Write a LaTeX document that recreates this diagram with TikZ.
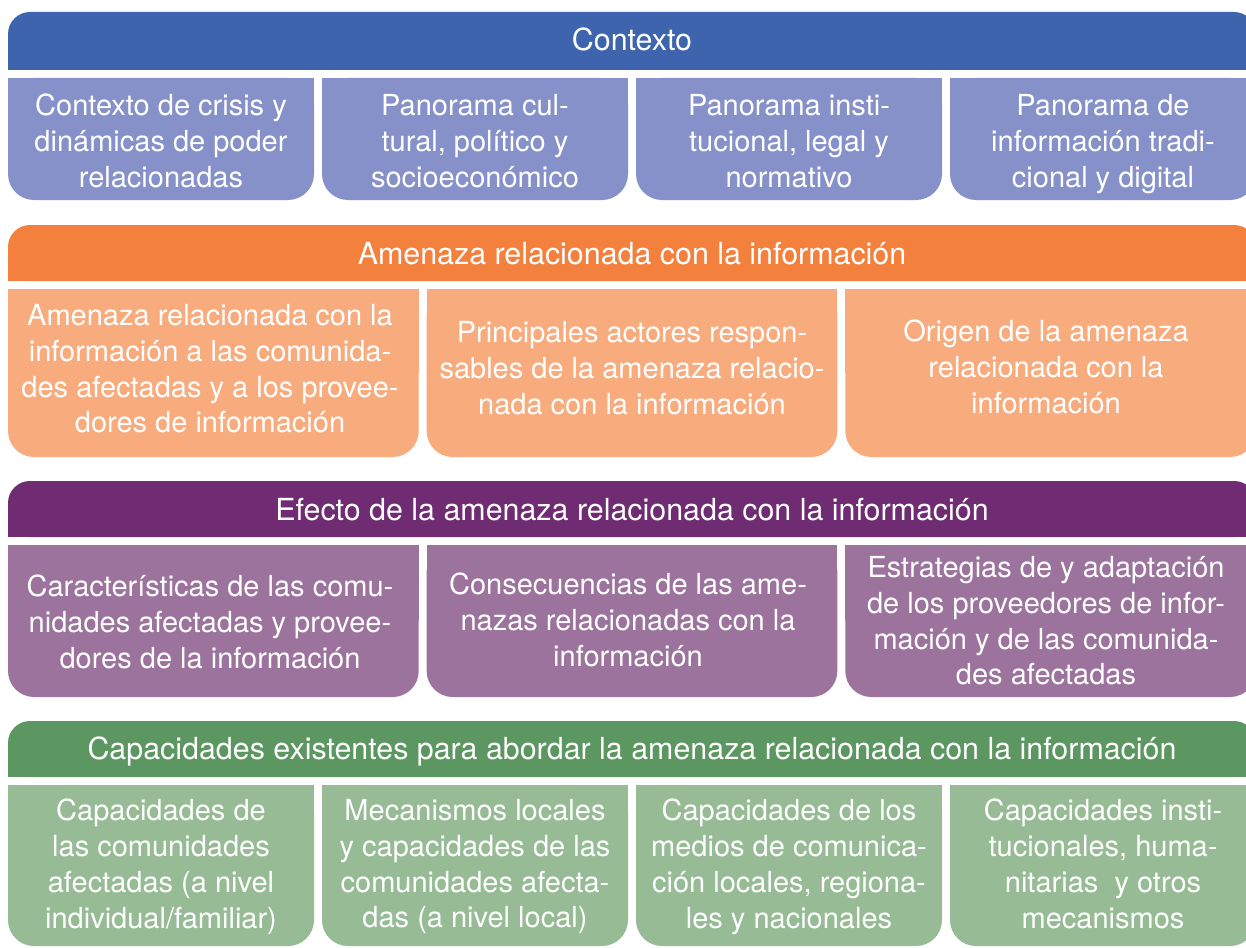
\documentclass[tikz,border=0pt]{standalone}
\usepackage{fontspec}
\setmainfont{TeX Gyre Heros}
\definecolor{bluehead}{HTML}{3E64AE}
\definecolor{bluebox}{HTML}{8591C8}
\definecolor{orangehead}{HTML}{F3813D}
\definecolor{orangebox}{HTML}{F8AC7E}
\definecolor{purplehead}{HTML}{6F2C72}
\definecolor{purplebox}{HTML}{9C739C}
\definecolor{greenhead}{HTML}{5C9762}
\definecolor{greenbox}{HTML}{96BB95}
\tikzset{
  headtext/.style={text=white, font=\fontsize{15.2}{18}\selectfont, inner sep=0pt,
    execute at begin node=\strut},
  boxtext/.style={text=white, font=\fontsize{14.5}{17.9}\selectfont, align=center, inner sep=0pt,
    execute at begin node=\strut, execute at end node=\strut},
}
% #1 colour, #2 x1, #3 y1 (top), #4 x2, #5 y2 (bottom)
\newcommand\myhead[5]{%
  \fill[#1, rounded corners=11pt] (#2,#3) rectangle (#4,#5);
  \fill[#1] (#2,{(#3+#5)/2}) rectangle (#4,#5);
}
\newcommand\mybox[5]{%
  \fill[#1, rounded corners=13pt] (#2,#3) rectangle (#4,#5);
  \fill[#1] (#2,#3) rectangle (#4,{(#3+#5)/2});
}
\begin{document}
\begin{tikzpicture}[x=0.5pt,y=-0.5pt]
\useasboundingbox (0,0) rectangle (1246,947);
\clip (0,0) rectangle (1246,947);
\fill[white] (0,0) rectangle (1246,947);

% Row 1
\myhead{bluehead}{8}{12}{1256}{70}
\mybox{bluebox}{8}{78}{314}{200}
\mybox{bluebox}{322}{78}{628}{200}
\mybox{bluebox}{636}{78}{942}{200}
\mybox{bluebox}{950}{78}{1256}{200}
\node[headtext] (h1) at (632,43) {Contexto};
\node[boxtext] (b11) at (161,146) {Contexto de crisis y\\dinámicas de poder\\relacionadas};
\node[boxtext] (b12) at (475,146) {Panorama cul-\\tural, político y\\socioeconómico};
\node[boxtext] (b13) at (789,146) {Panorama insti-\\tucional, legal y\\normativo};
\node[boxtext] (b14) at (1103,146) {Panorama de\\información tradi-\\cional y digital};

% Row 2
\myhead{orangehead}{8}{225}{1256}{281}
\mybox{orangebox}{8}{289}{418.7}{457}
\mybox{orangebox}{426.7}{289}{837.3}{457}
\mybox{orangebox}{845.3}{289}{1256}{457}
\node[headtext] (h2) at (632,257) {Amenaza relacionada con la información};
\node[boxtext] (b21) at (210,374) {Amenaza relacionada con la\\información a las comunida-\\des afectadas y a los provee-\\dores de información};
\node[boxtext] (b22) at (632,373) {Principales actores respon-\\sables de la amenaza relacio-\\nada con la información};
\node[boxtext] (b23) at (1046,372) {Origen de la amenaza\\relacionada con la\\información};

% Row 3
\myhead{purplehead}{8}{481}{1256}{537}
\mybox{purplebox}{8}{545}{418.7}{697}
\mybox{purplebox}{426.7}{545}{837.3}{697}
\mybox{purplebox}{845.3}{545}{1256}{697}
\node[headtext] (h3) at (632,513) {Efecto de la amenaza relacionada con la información};
\node[boxtext] (b31) at (210,627) {Características de las comu-\\nidades afectadas y provee-\\dores de la información};
\node[boxtext] (b32) at (628,625) {Consecuencias de las ame-\\nazas relacionadas con la\\información};
\node[boxtext] (b33) at (1046,626) {Estrategias de y adaptación\\de los proveedores de infor-\\mación y de las comunida-\\des afectadas};

% Row 4
\myhead{greenhead}{8}{721}{1256}{777}
\mybox{greenbox}{8}{785}{314}{946}
\mybox{greenbox}{322}{785}{628}{946}
\mybox{greenbox}{636}{785}{942}{946}
\mybox{greenbox}{950}{785}{1256}{946}
\node[headtext] (h4) at (632,752) {Capacidades existentes para abordar la amenaza relacionada con la información};
\node[boxtext] (b41) at (161,869) {Capacidades de\\las comunidades\\afectadas (a nivel\\individual/familiar)};
\node[boxtext] (b42) at (475,869) {Mecanismos locales\\y capacidades de las\\comunidades afecta-\\das (a nivel local)};
\node[boxtext] (b43) at (789,869) {Capacidades de los\\medios de comunica-\\ción locales, regiona-\\les y nacionales};
\node[boxtext] (b44) at (1103,869) {Capacidades insti-\\tucionales, huma-\\nitarias\ \ y otros\\mecanismos};
\end{tikzpicture}
\end{document}
